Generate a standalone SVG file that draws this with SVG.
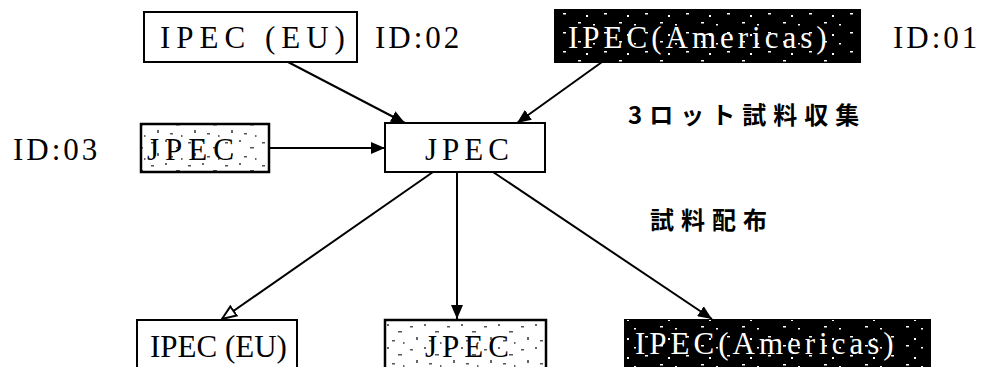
<svg xmlns="http://www.w3.org/2000/svg" width="988" height="367" viewBox="0 0 988 367">
<style>
.box{fill:#fff;stroke:#000;stroke-width:2}
.dark{fill:#000;stroke:#000;stroke-width:2}
.spk{fill:url(#speck);stroke:#000;stroke-width:2.5}
.t{font-family:"Liberation Serif","Times New Roman",serif;font-size:31px;fill:#000}
.w{fill:#fff}
.jp{font-family:"Noto Sans CJK JP","Noto Sans",sans-serif;font-size:24px;font-weight:bold;fill:#000;letter-spacing:7px}
.ln{stroke:#000;stroke-width:2;fill:none}
</style>
<defs>
<pattern id="speck" width="37" height="23" patternUnits="userSpaceOnUse">
<rect width="37" height="23" fill="#fff"/>
<rect x="3" y="4" width="3" height="1.5" fill="#555"/>
<rect x="17" y="2" width="2" height="2" fill="#666"/>
<rect x="28" y="9" width="4" height="1.5" fill="#555"/>
<rect x="9" y="15" width="2" height="3" fill="#666"/>
<rect x="22" y="18" width="3" height="1.5" fill="#555"/>
<rect x="33" y="20" width="1.5" height="2" fill="#666"/>
</pattern>
<pattern id="wspeck" width="41" height="19" patternUnits="userSpaceOnUse">
<rect x="4" y="3" width="3" height="1.5" fill="#fff"/>
<rect x="19" y="5" width="2" height="1.5" fill="#fff"/>
<rect x="30" y="13" width="3" height="1.5" fill="#fff"/>
<rect x="12" y="15" width="2" height="2" fill="#fff"/>
</pattern>
<marker id="ab" viewBox="0 0 14 12" refX="14" refY="6" markerWidth="14" markerHeight="12" markerUnits="userSpaceOnUse" orient="auto">
<path d="M0,0 L14,6 L0,12 z" fill="#000"/>
</marker>
<marker id="ao" viewBox="0 0 16 14" refX="15" refY="7" markerWidth="16" markerHeight="14" markerUnits="userSpaceOnUse" orient="auto">
<path d="M1,1.5 L15,7 L1,12.5 z" fill="#fff" stroke="#000" stroke-width="2"/>
</marker>
</defs>

<g id="connectors">
<line class="ln" x1="288" y1="62" x2="405" y2="123" marker-end="url(#ab)"/>
<line class="ln" x1="602" y1="62" x2="517" y2="123" marker-end="url(#ab)"/>
<line class="ln" x1="270" y1="148" x2="385" y2="148" marker-end="url(#ab)"/>
<line class="ln" x1="433" y1="172" x2="222" y2="319" marker-end="url(#ao)"/>
<line class="ln" x1="457" y1="172" x2="457" y2="319" marker-end="url(#ab)"/>
<line class="ln" x1="493" y1="172" x2="712" y2="319" marker-end="url(#ab)"/>
</g>

<g id="ipec-eu-top">
<rect class="box" x="144" y="12" width="213" height="50"/>
<text class="t" x="160" y="48" letter-spacing="6">IPEC (EU)</text>
</g>
<g id="id02"><text class="t" x="375" y="48" letter-spacing="3">ID:02</text></g>

<g id="ipec-americas-top">
<rect class="dark" x="555" y="10" width="305" height="52"/>
<rect x="555" y="10" width="305" height="52" fill="url(#wspeck)"/>
<text class="t w" x="568" y="48" letter-spacing="4">IPEC(Americas)</text>
</g>
<g id="id01"><text class="t" x="893" y="48" letter-spacing="3">ID:01</text></g>

<g id="id03"><text class="t" x="13" y="160" letter-spacing="3">ID:03</text></g>
<g id="jpec-left">
<rect class="spk" x="141" y="124" width="128" height="48"/>
<text class="t" x="147" y="160" letter-spacing="6">JPEC</text>
</g>

<g id="jpec-center">
<rect class="box" x="385" y="123" width="160" height="49"/>
<text class="t" x="425" y="160" letter-spacing="5">JPEC</text>
</g>

<g id="label-collect"><text class="jp" x="628" y="124">3ロット試料収集</text></g>
<g id="label-distribute"><text class="jp" x="650" y="229">試料配布</text></g>

<g id="ipec-eu-bottom">
<rect class="box" x="137" y="320" width="160" height="52"/>
<text class="t" x="150" y="357" font-size="30">IPEC (EU)</text>
</g>
<g id="jpec-bottom">
<rect class="spk" x="385" y="320" width="161" height="52"/>
<text class="t" x="425" y="357" letter-spacing="5">JPEC</text>
</g>
<g id="ipec-americas-bottom">
<rect class="dark" x="625" y="320" width="305" height="52"/>
<rect x="625" y="320" width="305" height="52" fill="url(#wspeck)"/>
<text class="t w" x="635" y="354" letter-spacing="4">IPEC(Americas)</text>
</g>
</svg>
